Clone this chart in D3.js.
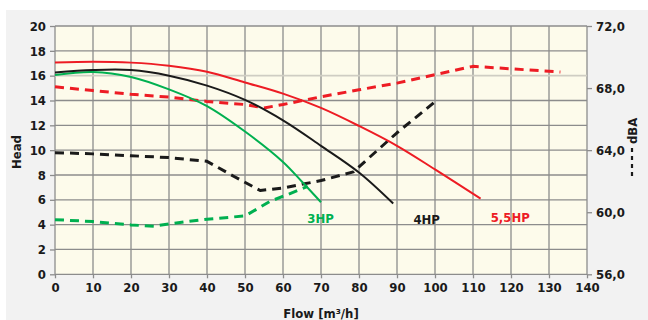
<!DOCTYPE html>
<html><head><meta charset="utf-8">
<script src="https://cdn.jsdelivr.net/npm/d3@7"></script>
<style>
html,body{margin:0;padding:0;background:#fff;}
svg{display:block;}
text{font-family:"Liberation Sans Narrow","DejaVu Sans Condensed","Roboto",sans-serif;font-weight:bold;}
</style></head>
<body>
<svg id="chart" width="648" height="320"></svg>
<script>
// ---- data ----
const flowTicks = [0,10,20,30,40,50,60,70,80,90,100,110,120,130,140];
const headTicks = [0,2,4,6,8,10,12,14,16,18,20];
const dbaTicks = [56,60,64,68,72];
const dbaTickLabels = ["56,0","60,0","64,0","68,0","72,0"];

// head curves [flow, head]
const head3HP = [[0,16.05],[10,16.3],[20,15.9],[30,14.9],[40,13.55],[50,11.5],[60,9.05],[65,7.45],[70,5.8]];
const head4HP = [[0,16.25],[10,16.45],[20,16.45],[30,16.0],[40,15.2],[50,14.05],[60,12.4],[70,10.35],[80,8.2],[89,5.7]];
const head55HP = [[0,17.05],[10,17.12],[20,17.05],[30,16.8],[40,16.32],[50,15.45],[60,14.55],[70,13.4],[80,11.95],[90,10.35],[100,8.45],[112,6.1]];

// noise curves [flow, dBA]
const dba3HP = [[0,59.52],[10,59.4],[20,59.18],[26,59.1],[30,59.25],[40,59.55],[50,59.76],[56.6,60.7],[61,61.12],[66.5,61.66]];
const dba4HP = [[0,63.84],[10,63.76],[20,63.64],[30,63.52],[40,63.28],[47,62.32],[54,61.4],[60,61.56],[70,62.04],[78.5,62.6],[90,65.12],[100,67.12]];
const dba55HP = [[0,68.08],[10,67.84],[20,67.6],[30,67.42],[40,67.14],[50,66.94],[55,66.72],[60,66.94],[70,67.44],[80,67.89],[90,68.32],[101,68.92],[110,69.4],[120,69.24],[133,69.04]];

const seriesNames = ["3HP","4HP","5,5HP"];
const seriesColors = ["#00b050","#1a1a1a","#ed1c24"];
const labelAnchors = [[69.9,4.14],[97.8,4.05],[119.8,4.2]]; // [flow, head]

// ---- layout ----
const svg = d3.select("#chart");
const L = 55, R = 587, T = 26, B = 274.3;
const x = d3.scaleLinear().domain([0,140]).range([L,R]);
const y = d3.scaleLinear().domain([0,20]).range([B,T]);
const y2 = d3.scaleLinear().domain([56,72]).range([B,T]);

svg.append("rect").attr("x",6).attr("y",10).attr("width",642).attr("height",310).attr("fill","#f2f2f2");
svg.append("rect").attr("x",L).attr("y",T).attr("width",R-L).attr("height",B-T).attr("fill","#fdfbeb");

const gridColor = "#8c8c8c";
// grid
svg.append("g").selectAll("line").data(flowTicks).join("line")
  .attr("x1",d=>x(d)).attr("x2",d=>x(d)).attr("y1",T).attr("y2",B)
  .attr("stroke",gridColor).attr("stroke-width",1.3);
svg.append("g").selectAll("line").data(headTicks).join("line")
  .attr("x1",L).attr("x2",R).attr("y1",d=>y(d)).attr("y2",d=>y(d))
  .attr("stroke",d=>d===16?"#cfcdc3":gridColor).attr("stroke-width",d=>d===16?1.6:1.3);

// axes
const axisStyle = g => {
  g.select(".domain").remove();
  g.selectAll(".tick line").attr("stroke",gridColor).attr("stroke-width",1.3);
  g.selectAll(".tick text").attr("fill","#1a1a1a").style("font-size","13px");
};
svg.append("g").attr("transform",`translate(${L},0)`)
  .call(d3.axisLeft(y).tickValues(headTicks).tickSize(5).tickPadding(4).tickFormat(d3.format("d")))
  .call(axisStyle);
svg.append("g").attr("transform",`translate(0,${B})`)
  .call(d3.axisBottom(x).tickValues(flowTicks).tickSize(4).tickPadding(4).tickFormat(d3.format("d")))
  .call(axisStyle);
svg.append("g").attr("transform",`translate(${R},0)`)
  .call(d3.axisRight(y2).tickValues(dbaTicks).tickSize(5).tickPadding(4).tickFormat((d,i)=>dbaTickLabels[i]))
  .call(axisStyle);

// lines
const lineH = d3.line().x(d=>x(d[0])).y(d=>y(d[1])).curve(d3.curveCatmullRom.alpha(0.5));
const lineD = d3.line().x(d=>x(d[0])).y(d=>y2(d[1])).curve(d3.curveLinear);
const dbaSeries = [dba3HP, dba4HP, dba55HP];
const headSeries = [head3HP, head4HP, head55HP];
dbaSeries.forEach((s,i)=>{
  svg.append("path").attr("d",lineD(s)).attr("fill","none")
    .attr("stroke",seriesColors[i]).attr("stroke-width",3).attr("stroke-dasharray","9,6")
    .attr("stroke-linejoin","round");
});
headSeries.forEach((s,i)=>{
  svg.append("path").attr("d",lineH(s)).attr("fill","none")
    .attr("stroke",seriesColors[i]).attr("stroke-width",2);
});

// series labels
svg.append("g").selectAll("text").data(seriesNames).join("text")
  .attr("x",(d,i)=>x(labelAnchors[i][0])).attr("y",(d,i)=>y(labelAnchors[i][1]))
  .attr("text-anchor","middle").attr("fill",(d,i)=>seriesColors[i])
  .style("font-size","13px").text(d=>d);

// axis titles
svg.append("text").attr("x",321).attr("y",318).attr("text-anchor","middle")
  .attr("fill","#1a1a1a").style("font-size","13px").text("Flow [m³/h]");
svg.append("text").attr("transform","translate(21,152) rotate(-90)").attr("text-anchor","middle")
  .attr("fill","#1a1a1a").style("font-size","13px").text("Head");
const dl = svg.append("g").attr("transform","translate(632,176) rotate(-90)");
dl.append("line").attr("x1",0).attr("x2",31).attr("y1",0).attr("y2",0)
  .attr("stroke","#1a1a1a").attr("stroke-width",2.2).attr("stroke-dasharray","4,4");
dl.append("text").attr("x",32).attr("y",5).attr("fill","#1a1a1a").style("font-size","13px").text("dBA");
</script>
</body></html>
